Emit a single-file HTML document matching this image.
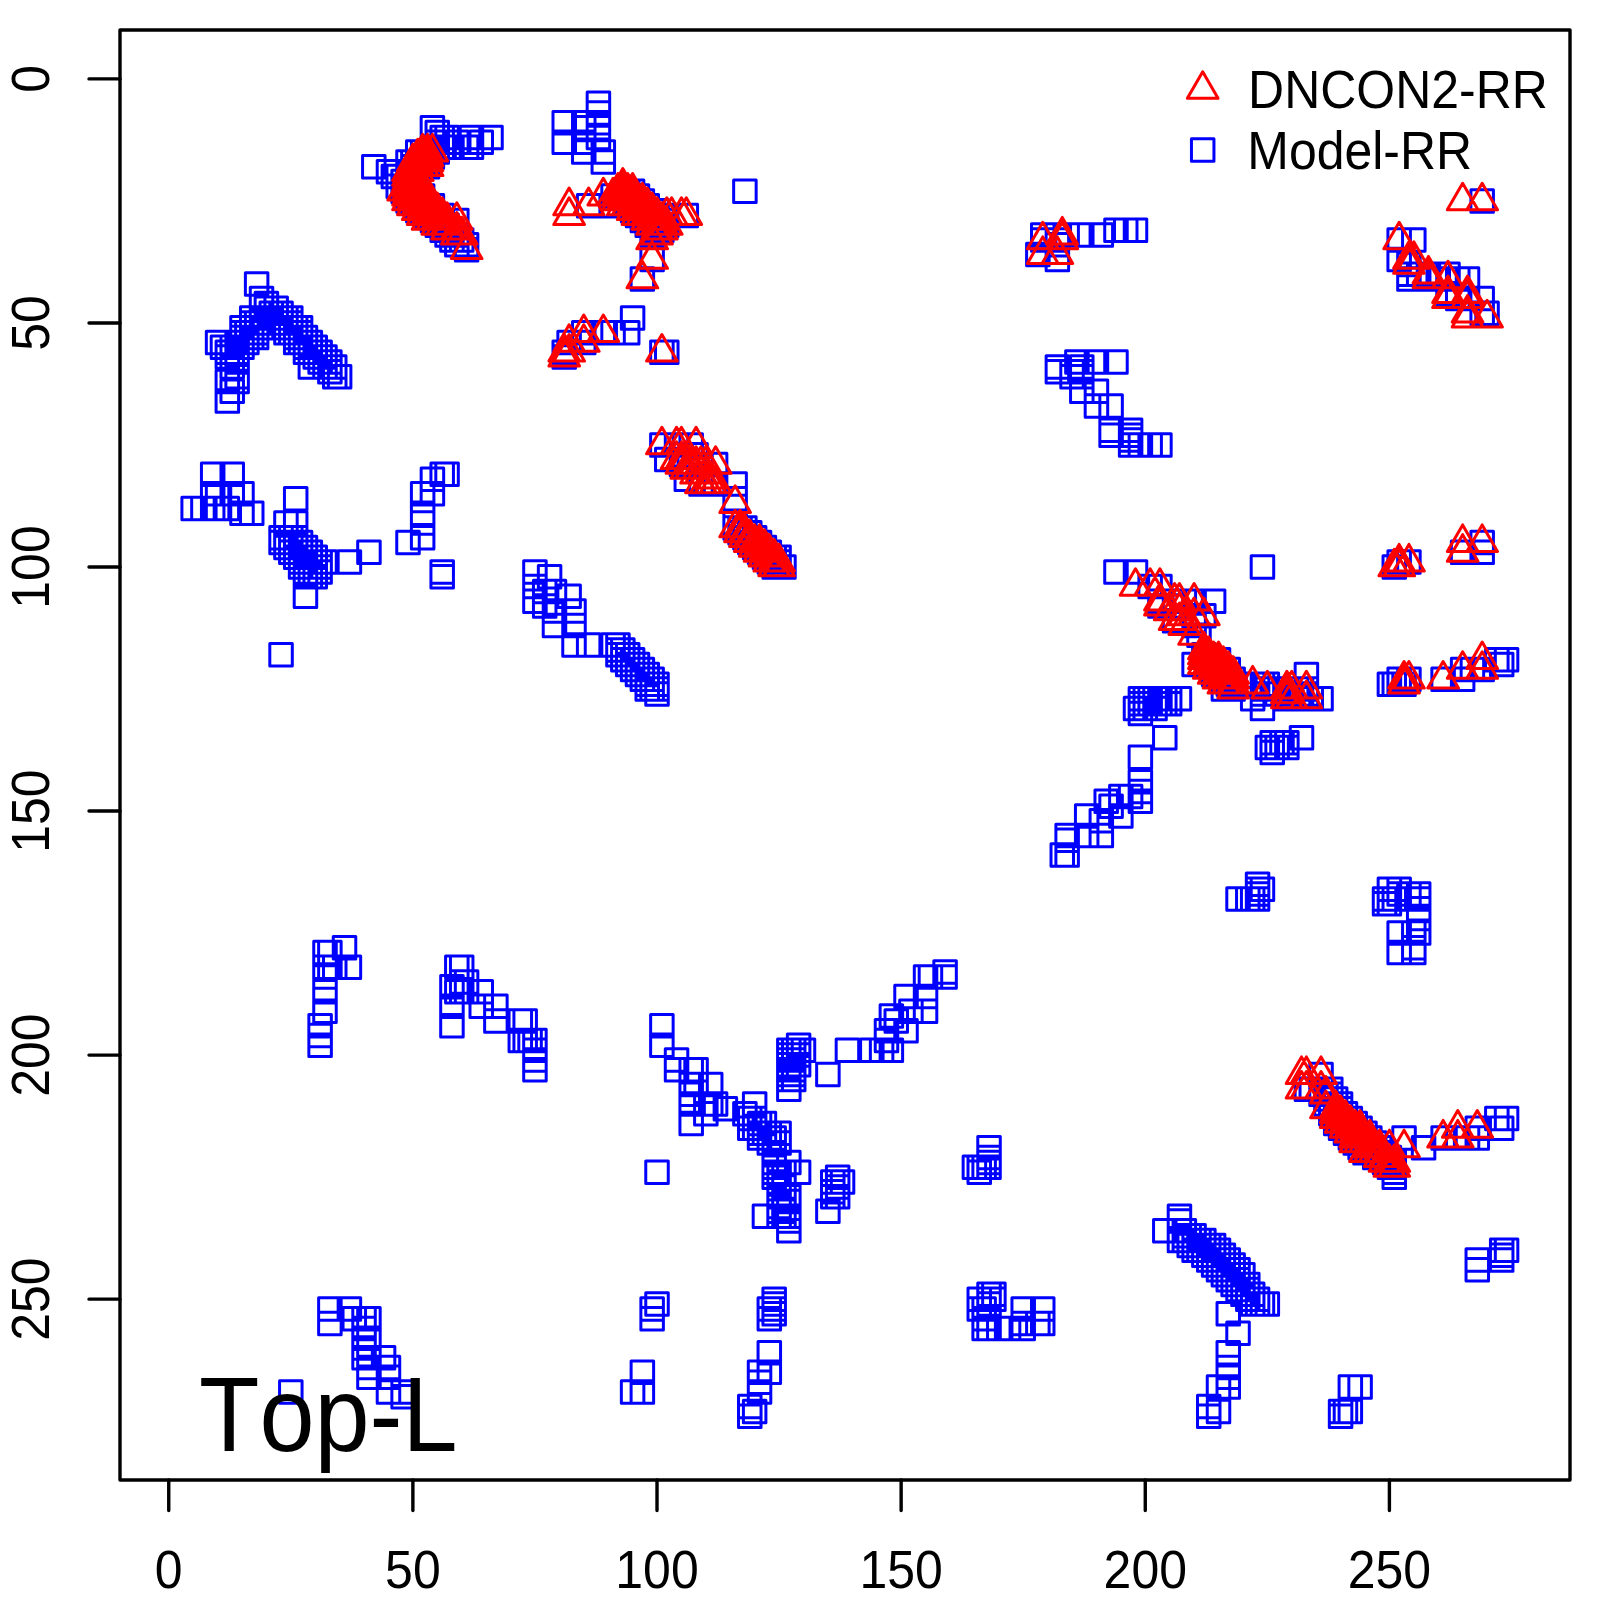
<!DOCTYPE html><html><head><meta charset="utf-8"><style>html,body{margin:0;padding:0;background:#fff;}svg{display:block;}text{font-family:"Liberation Sans",sans-serif;font-kerning:none;}</style></head><body>
<svg width="1600" height="1600" viewBox="0 0 1600 1600">
<rect x="0" y="0" width="1600" height="1600" fill="#fff"/>
<path d="M181.91 497.18h22.5v22.5h-22.5zM191.68 497.18h22.5v22.5h-22.5zM201.44 463.01h22.5v22.5h-22.5zM201.44 482.53h22.5v22.5h-22.5zM201.44 497.18h22.5v22.5h-22.5zM206.33 331.22h22.5v22.5h-22.5zM206.33 482.53h22.5v22.5h-22.5zM206.33 497.18h22.5v22.5h-22.5zM211.21 336.11h22.5v22.5h-22.5zM216.09 340.99h22.5v22.5h-22.5zM216.09 345.87h22.5v22.5h-22.5zM216.09 370.27h22.5v22.5h-22.5zM216.09 389.80h22.5v22.5h-22.5zM216.09 497.18h22.5v22.5h-22.5zM220.97 336.11h22.5v22.5h-22.5zM220.97 355.63h22.5v22.5h-22.5zM220.97 380.03h22.5v22.5h-22.5zM220.97 463.01h22.5v22.5h-22.5zM220.97 482.53h22.5v22.5h-22.5zM225.86 331.22h22.5v22.5h-22.5zM225.86 336.11h22.5v22.5h-22.5zM225.86 340.99h22.5v22.5h-22.5zM225.86 350.75h22.5v22.5h-22.5zM225.86 365.39h22.5v22.5h-22.5zM225.86 370.27h22.5v22.5h-22.5zM230.74 316.58h22.5v22.5h-22.5zM230.74 321.46h22.5v22.5h-22.5zM230.74 326.34h22.5v22.5h-22.5zM230.74 336.11h22.5v22.5h-22.5zM230.74 482.53h22.5v22.5h-22.5zM230.74 502.06h22.5v22.5h-22.5zM235.62 321.46h22.5v22.5h-22.5zM235.62 331.22h22.5v22.5h-22.5zM240.50 306.82h22.5v22.5h-22.5zM240.50 311.70h22.5v22.5h-22.5zM240.50 316.58h22.5v22.5h-22.5zM240.50 326.34h22.5v22.5h-22.5zM240.50 502.06h22.5v22.5h-22.5zM245.39 272.65h22.5v22.5h-22.5zM245.39 311.70h22.5v22.5h-22.5zM245.39 321.46h22.5v22.5h-22.5zM245.39 326.34h22.5v22.5h-22.5zM250.27 287.30h22.5v22.5h-22.5zM250.27 306.82h22.5v22.5h-22.5zM250.27 316.58h22.5v22.5h-22.5zM255.15 292.18h22.5v22.5h-22.5zM255.15 297.06h22.5v22.5h-22.5zM260.03 301.94h22.5v22.5h-22.5zM264.92 297.06h22.5v22.5h-22.5zM264.92 306.82h22.5v22.5h-22.5zM269.80 301.94h22.5v22.5h-22.5zM269.80 311.70h22.5v22.5h-22.5zM269.80 526.46h22.5v22.5h-22.5zM269.80 531.35h22.5v22.5h-22.5zM269.80 643.61h22.5v22.5h-22.5zM274.68 306.82h22.5v22.5h-22.5zM274.68 316.58h22.5v22.5h-22.5zM274.68 321.46h22.5v22.5h-22.5zM274.68 511.82h22.5v22.5h-22.5zM274.68 526.46h22.5v22.5h-22.5zM274.68 531.35h22.5v22.5h-22.5zM274.68 536.23h22.5v22.5h-22.5zM279.56 306.82h22.5v22.5h-22.5zM279.56 311.70h22.5v22.5h-22.5zM279.56 321.46h22.5v22.5h-22.5zM279.56 526.46h22.5v22.5h-22.5zM279.56 531.35h22.5v22.5h-22.5zM279.56 536.23h22.5v22.5h-22.5zM279.56 541.11h22.5v22.5h-22.5zM279.56 1380.64h22.5v22.5h-22.5zM284.45 316.58h22.5v22.5h-22.5zM284.45 326.34h22.5v22.5h-22.5zM284.45 331.22h22.5v22.5h-22.5zM284.45 487.42h22.5v22.5h-22.5zM284.45 511.82h22.5v22.5h-22.5zM284.45 526.46h22.5v22.5h-22.5zM284.45 531.35h22.5v22.5h-22.5zM284.45 536.23h22.5v22.5h-22.5zM284.45 541.11h22.5v22.5h-22.5zM284.45 545.99h22.5v22.5h-22.5zM289.33 316.58h22.5v22.5h-22.5zM289.33 321.46h22.5v22.5h-22.5zM289.33 331.22h22.5v22.5h-22.5zM289.33 531.35h22.5v22.5h-22.5zM289.33 536.23h22.5v22.5h-22.5zM289.33 541.11h22.5v22.5h-22.5zM289.33 545.99h22.5v22.5h-22.5zM289.33 550.87h22.5v22.5h-22.5zM289.33 555.75h22.5v22.5h-22.5zM294.21 326.34h22.5v22.5h-22.5zM294.21 336.11h22.5v22.5h-22.5zM294.21 340.99h22.5v22.5h-22.5zM294.21 536.23h22.5v22.5h-22.5zM294.21 541.11h22.5v22.5h-22.5zM294.21 545.99h22.5v22.5h-22.5zM294.21 550.87h22.5v22.5h-22.5zM294.21 555.75h22.5v22.5h-22.5zM294.21 560.63h22.5v22.5h-22.5zM294.21 565.51h22.5v22.5h-22.5zM294.21 585.04h22.5v22.5h-22.5zM299.10 331.22h22.5v22.5h-22.5zM299.10 336.11h22.5v22.5h-22.5zM299.10 340.99h22.5v22.5h-22.5zM299.10 355.63h22.5v22.5h-22.5zM299.10 541.11h22.5v22.5h-22.5zM299.10 545.99h22.5v22.5h-22.5zM299.10 550.87h22.5v22.5h-22.5zM299.10 555.75h22.5v22.5h-22.5zM299.10 560.63h22.5v22.5h-22.5zM299.10 565.51h22.5v22.5h-22.5zM303.98 336.11h22.5v22.5h-22.5zM303.98 345.87h22.5v22.5h-22.5zM303.98 545.99h22.5v22.5h-22.5zM303.98 550.87h22.5v22.5h-22.5zM303.98 555.75h22.5v22.5h-22.5zM303.98 560.63h22.5v22.5h-22.5zM303.98 565.51h22.5v22.5h-22.5zM308.86 340.99h22.5v22.5h-22.5zM308.86 350.75h22.5v22.5h-22.5zM308.86 550.87h22.5v22.5h-22.5zM308.86 555.75h22.5v22.5h-22.5zM308.86 560.63h22.5v22.5h-22.5zM308.86 1014.56h22.5v22.5h-22.5zM308.86 1024.33h22.5v22.5h-22.5zM308.86 1034.09h22.5v22.5h-22.5zM313.74 345.87h22.5v22.5h-22.5zM313.74 355.63h22.5v22.5h-22.5zM313.74 550.87h22.5v22.5h-22.5zM313.74 941.35h22.5v22.5h-22.5zM313.74 955.99h22.5v22.5h-22.5zM313.74 965.75h22.5v22.5h-22.5zM313.74 980.40h22.5v22.5h-22.5zM313.74 999.92h22.5v22.5h-22.5zM318.63 350.75h22.5v22.5h-22.5zM318.63 360.51h22.5v22.5h-22.5zM318.63 941.35h22.5v22.5h-22.5zM318.63 955.99h22.5v22.5h-22.5zM318.63 1297.66h22.5v22.5h-22.5zM318.63 1312.31h22.5v22.5h-22.5zM323.51 355.63h22.5v22.5h-22.5zM323.51 365.39h22.5v22.5h-22.5zM323.51 955.99h22.5v22.5h-22.5zM328.39 365.39h22.5v22.5h-22.5zM333.27 936.47h22.5v22.5h-22.5zM338.16 550.87h22.5v22.5h-22.5zM338.16 955.99h22.5v22.5h-22.5zM338.16 1297.66h22.5v22.5h-22.5zM343.04 1307.42h22.5v22.5h-22.5zM352.80 1307.42h22.5v22.5h-22.5zM352.80 1317.19h22.5v22.5h-22.5zM352.80 1326.95h22.5v22.5h-22.5zM352.80 1336.71h22.5v22.5h-22.5zM352.80 1346.47h22.5v22.5h-22.5zM357.69 541.11h22.5v22.5h-22.5zM357.69 1307.42h22.5v22.5h-22.5zM357.69 1326.95h22.5v22.5h-22.5zM357.69 1346.47h22.5v22.5h-22.5zM357.69 1356.23h22.5v22.5h-22.5zM357.69 1366.00h22.5v22.5h-22.5zM362.57 155.51h22.5v22.5h-22.5zM372.33 1346.47h22.5v22.5h-22.5zM377.22 160.39h22.5v22.5h-22.5zM377.22 1356.23h22.5v22.5h-22.5zM377.22 1366.00h22.5v22.5h-22.5zM377.22 1380.64h22.5v22.5h-22.5zM382.10 165.27h22.5v22.5h-22.5zM386.98 165.27h22.5v22.5h-22.5zM386.98 175.03h22.5v22.5h-22.5zM391.86 170.15h22.5v22.5h-22.5zM391.86 179.91h22.5v22.5h-22.5zM391.86 1380.64h22.5v22.5h-22.5zM391.86 1385.52h22.5v22.5h-22.5zM396.75 150.63h22.5v22.5h-22.5zM396.75 160.39h22.5v22.5h-22.5zM396.75 175.03h22.5v22.5h-22.5zM396.75 184.79h22.5v22.5h-22.5zM396.75 189.68h22.5v22.5h-22.5zM396.75 531.35h22.5v22.5h-22.5zM401.63 150.63h22.5v22.5h-22.5zM401.63 155.51h22.5v22.5h-22.5zM401.63 179.91h22.5v22.5h-22.5zM401.63 189.68h22.5v22.5h-22.5zM406.51 140.87h22.5v22.5h-22.5zM406.51 150.63h22.5v22.5h-22.5zM406.51 160.39h22.5v22.5h-22.5zM406.51 184.79h22.5v22.5h-22.5zM406.51 194.56h22.5v22.5h-22.5zM406.51 199.44h22.5v22.5h-22.5zM411.40 140.87h22.5v22.5h-22.5zM411.40 145.75h22.5v22.5h-22.5zM411.40 155.51h22.5v22.5h-22.5zM411.40 184.79h22.5v22.5h-22.5zM411.40 189.68h22.5v22.5h-22.5zM411.40 199.44h22.5v22.5h-22.5zM411.40 482.53h22.5v22.5h-22.5zM411.40 502.06h22.5v22.5h-22.5zM411.40 511.82h22.5v22.5h-22.5zM411.40 526.46h22.5v22.5h-22.5zM416.28 140.87h22.5v22.5h-22.5zM416.28 150.63h22.5v22.5h-22.5zM416.28 155.51h22.5v22.5h-22.5zM416.28 194.56h22.5v22.5h-22.5zM416.28 204.32h22.5v22.5h-22.5zM421.16 116.46h22.5v22.5h-22.5zM421.16 135.98h22.5v22.5h-22.5zM421.16 145.75h22.5v22.5h-22.5zM421.16 194.56h22.5v22.5h-22.5zM421.16 199.44h22.5v22.5h-22.5zM421.16 209.20h22.5v22.5h-22.5zM421.16 467.89h22.5v22.5h-22.5zM421.16 482.53h22.5v22.5h-22.5zM426.04 121.34h22.5v22.5h-22.5zM426.04 131.10h22.5v22.5h-22.5zM426.04 135.98h22.5v22.5h-22.5zM426.04 140.87h22.5v22.5h-22.5zM426.04 204.32h22.5v22.5h-22.5zM426.04 209.20h22.5v22.5h-22.5zM426.04 214.08h22.5v22.5h-22.5zM430.93 126.22h22.5v22.5h-22.5zM430.93 135.98h22.5v22.5h-22.5zM430.93 204.32h22.5v22.5h-22.5zM430.93 209.20h22.5v22.5h-22.5zM430.93 218.96h22.5v22.5h-22.5zM430.93 463.01h22.5v22.5h-22.5zM430.93 560.63h22.5v22.5h-22.5zM430.93 565.51h22.5v22.5h-22.5zM435.81 126.22h22.5v22.5h-22.5zM435.81 214.08h22.5v22.5h-22.5zM435.81 223.84h22.5v22.5h-22.5zM435.81 463.01h22.5v22.5h-22.5zM440.69 135.98h22.5v22.5h-22.5zM440.69 218.96h22.5v22.5h-22.5zM440.69 228.72h22.5v22.5h-22.5zM440.69 975.52h22.5v22.5h-22.5zM440.69 995.04h22.5v22.5h-22.5zM440.69 1014.56h22.5v22.5h-22.5zM445.57 131.10h22.5v22.5h-22.5zM445.57 209.20h22.5v22.5h-22.5zM445.57 223.84h22.5v22.5h-22.5zM445.57 233.60h22.5v22.5h-22.5zM445.57 955.99h22.5v22.5h-22.5zM445.57 980.40h22.5v22.5h-22.5zM450.46 228.72h22.5v22.5h-22.5zM450.46 955.99h22.5v22.5h-22.5zM450.46 970.63h22.5v22.5h-22.5zM450.46 980.40h22.5v22.5h-22.5zM455.34 135.98h22.5v22.5h-22.5zM455.34 233.60h22.5v22.5h-22.5zM455.34 238.49h22.5v22.5h-22.5zM455.34 970.63h22.5v22.5h-22.5zM455.34 980.40h22.5v22.5h-22.5zM460.22 126.22h22.5v22.5h-22.5zM460.22 135.98h22.5v22.5h-22.5zM469.99 131.10h22.5v22.5h-22.5zM469.99 980.40h22.5v22.5h-22.5zM469.99 995.04h22.5v22.5h-22.5zM479.75 126.22h22.5v22.5h-22.5zM484.63 995.04h22.5v22.5h-22.5zM484.63 1009.68h22.5v22.5h-22.5zM509.05 1009.68h22.5v22.5h-22.5zM509.05 1029.21h22.5v22.5h-22.5zM513.93 1009.68h22.5v22.5h-22.5zM513.93 1029.21h22.5v22.5h-22.5zM518.81 1029.21h22.5v22.5h-22.5zM523.69 560.63h22.5v22.5h-22.5zM523.69 575.27h22.5v22.5h-22.5zM523.69 589.92h22.5v22.5h-22.5zM523.69 1029.21h22.5v22.5h-22.5zM523.69 1038.97h22.5v22.5h-22.5zM523.69 1048.73h22.5v22.5h-22.5zM523.69 1058.49h22.5v22.5h-22.5zM533.46 580.15h22.5v22.5h-22.5zM533.46 594.80h22.5v22.5h-22.5zM538.34 565.51h22.5v22.5h-22.5zM543.23 580.15h22.5v22.5h-22.5zM543.23 599.68h22.5v22.5h-22.5zM543.23 614.32h22.5v22.5h-22.5zM552.99 111.58h22.5v22.5h-22.5zM552.99 131.10h22.5v22.5h-22.5zM552.99 340.99h22.5v22.5h-22.5zM552.99 345.87h22.5v22.5h-22.5zM557.87 331.22h22.5v22.5h-22.5zM557.87 585.04h22.5v22.5h-22.5zM562.76 599.68h22.5v22.5h-22.5zM562.76 614.32h22.5v22.5h-22.5zM562.76 633.85h22.5v22.5h-22.5zM572.52 111.58h22.5v22.5h-22.5zM572.52 116.46h22.5v22.5h-22.5zM572.52 131.10h22.5v22.5h-22.5zM572.52 140.87h22.5v22.5h-22.5zM572.52 321.46h22.5v22.5h-22.5zM572.52 331.22h22.5v22.5h-22.5zM577.40 194.56h22.5v22.5h-22.5zM577.40 633.85h22.5v22.5h-22.5zM587.17 92.06h22.5v22.5h-22.5zM587.17 101.82h22.5v22.5h-22.5zM587.17 111.58h22.5v22.5h-22.5zM587.17 116.46h22.5v22.5h-22.5zM587.17 126.22h22.5v22.5h-22.5zM592.05 140.87h22.5v22.5h-22.5zM592.05 150.63h22.5v22.5h-22.5zM592.05 321.46h22.5v22.5h-22.5zM601.82 184.79h22.5v22.5h-22.5zM601.82 194.56h22.5v22.5h-22.5zM601.82 321.46h22.5v22.5h-22.5zM601.82 633.85h22.5v22.5h-22.5zM606.70 633.85h22.5v22.5h-22.5zM606.70 638.73h22.5v22.5h-22.5zM606.70 643.61h22.5v22.5h-22.5zM611.58 638.73h22.5v22.5h-22.5zM611.58 643.61h22.5v22.5h-22.5zM611.58 648.49h22.5v22.5h-22.5zM616.46 179.91h22.5v22.5h-22.5zM616.46 184.79h22.5v22.5h-22.5zM616.46 189.68h22.5v22.5h-22.5zM616.46 194.56h22.5v22.5h-22.5zM616.46 321.46h22.5v22.5h-22.5zM616.46 643.61h22.5v22.5h-22.5zM616.46 648.49h22.5v22.5h-22.5zM616.46 653.37h22.5v22.5h-22.5zM621.35 179.91h22.5v22.5h-22.5zM621.35 184.79h22.5v22.5h-22.5zM621.35 189.68h22.5v22.5h-22.5zM621.35 194.56h22.5v22.5h-22.5zM621.35 199.44h22.5v22.5h-22.5zM621.35 306.82h22.5v22.5h-22.5zM621.35 648.49h22.5v22.5h-22.5zM621.35 653.37h22.5v22.5h-22.5zM621.35 658.25h22.5v22.5h-22.5zM621.35 1380.64h22.5v22.5h-22.5zM626.23 184.79h22.5v22.5h-22.5zM626.23 189.68h22.5v22.5h-22.5zM626.23 194.56h22.5v22.5h-22.5zM626.23 199.44h22.5v22.5h-22.5zM626.23 204.32h22.5v22.5h-22.5zM626.23 653.37h22.5v22.5h-22.5zM626.23 658.25h22.5v22.5h-22.5zM626.23 663.13h22.5v22.5h-22.5zM631.11 189.68h22.5v22.5h-22.5zM631.11 194.56h22.5v22.5h-22.5zM631.11 199.44h22.5v22.5h-22.5zM631.11 204.32h22.5v22.5h-22.5zM631.11 209.20h22.5v22.5h-22.5zM631.11 267.77h22.5v22.5h-22.5zM631.11 658.25h22.5v22.5h-22.5zM631.11 663.13h22.5v22.5h-22.5zM631.11 668.01h22.5v22.5h-22.5zM631.11 1361.12h22.5v22.5h-22.5zM631.11 1380.64h22.5v22.5h-22.5zM635.99 194.56h22.5v22.5h-22.5zM635.99 199.44h22.5v22.5h-22.5zM635.99 204.32h22.5v22.5h-22.5zM635.99 209.20h22.5v22.5h-22.5zM635.99 214.08h22.5v22.5h-22.5zM635.99 663.13h22.5v22.5h-22.5zM635.99 668.01h22.5v22.5h-22.5zM635.99 672.89h22.5v22.5h-22.5zM635.99 677.77h22.5v22.5h-22.5zM640.88 199.44h22.5v22.5h-22.5zM640.88 204.32h22.5v22.5h-22.5zM640.88 209.20h22.5v22.5h-22.5zM640.88 214.08h22.5v22.5h-22.5zM640.88 218.96h22.5v22.5h-22.5zM640.88 223.84h22.5v22.5h-22.5zM640.88 248.25h22.5v22.5h-22.5zM640.88 668.01h22.5v22.5h-22.5zM640.88 672.89h22.5v22.5h-22.5zM640.88 677.77h22.5v22.5h-22.5zM640.88 1297.66h22.5v22.5h-22.5zM640.88 1307.42h22.5v22.5h-22.5zM645.76 199.44h22.5v22.5h-22.5zM645.76 204.32h22.5v22.5h-22.5zM645.76 209.20h22.5v22.5h-22.5zM645.76 214.08h22.5v22.5h-22.5zM645.76 218.96h22.5v22.5h-22.5zM645.76 672.89h22.5v22.5h-22.5zM645.76 677.77h22.5v22.5h-22.5zM645.76 682.66h22.5v22.5h-22.5zM645.76 1160.99h22.5v22.5h-22.5zM645.76 1292.78h22.5v22.5h-22.5zM650.64 204.32h22.5v22.5h-22.5zM650.64 209.20h22.5v22.5h-22.5zM650.64 214.08h22.5v22.5h-22.5zM650.64 218.96h22.5v22.5h-22.5zM650.64 340.99h22.5v22.5h-22.5zM650.64 433.73h22.5v22.5h-22.5zM650.64 1014.56h22.5v22.5h-22.5zM650.64 1034.09h22.5v22.5h-22.5zM655.53 204.32h22.5v22.5h-22.5zM655.53 209.20h22.5v22.5h-22.5zM655.53 214.08h22.5v22.5h-22.5zM655.53 340.99h22.5v22.5h-22.5zM655.53 448.37h22.5v22.5h-22.5zM665.29 433.73h22.5v22.5h-22.5zM665.29 1048.73h22.5v22.5h-22.5zM665.29 1058.49h22.5v22.5h-22.5zM670.17 443.49h22.5v22.5h-22.5zM670.17 453.25h22.5v22.5h-22.5zM675.06 204.32h22.5v22.5h-22.5zM675.06 467.89h22.5v22.5h-22.5zM679.94 433.73h22.5v22.5h-22.5zM679.94 1058.49h22.5v22.5h-22.5zM679.94 1073.14h22.5v22.5h-22.5zM679.94 1082.90h22.5v22.5h-22.5zM679.94 1092.66h22.5v22.5h-22.5zM679.94 1112.18h22.5v22.5h-22.5zM684.82 443.49h22.5v22.5h-22.5zM684.82 1058.49h22.5v22.5h-22.5zM684.82 1073.14h22.5v22.5h-22.5zM689.70 453.25h22.5v22.5h-22.5zM689.70 472.77h22.5v22.5h-22.5zM694.59 1092.66h22.5v22.5h-22.5zM694.59 1102.42h22.5v22.5h-22.5zM699.47 1073.14h22.5v22.5h-22.5zM699.47 1092.66h22.5v22.5h-22.5zM704.35 453.25h22.5v22.5h-22.5zM704.35 472.77h22.5v22.5h-22.5zM704.35 1092.66h22.5v22.5h-22.5zM714.12 1097.54h22.5v22.5h-22.5zM723.88 472.77h22.5v22.5h-22.5zM723.88 487.42h22.5v22.5h-22.5zM723.88 511.82h22.5v22.5h-22.5zM723.88 516.70h22.5v22.5h-22.5zM728.76 516.70h22.5v22.5h-22.5zM728.76 521.58h22.5v22.5h-22.5zM733.65 179.91h22.5v22.5h-22.5zM733.65 516.70h22.5v22.5h-22.5zM733.65 521.58h22.5v22.5h-22.5zM733.65 526.46h22.5v22.5h-22.5zM733.65 1102.42h22.5v22.5h-22.5zM738.53 521.58h22.5v22.5h-22.5zM738.53 526.46h22.5v22.5h-22.5zM738.53 531.35h22.5v22.5h-22.5zM738.53 1107.30h22.5v22.5h-22.5zM738.53 1117.07h22.5v22.5h-22.5zM738.53 1395.28h22.5v22.5h-22.5zM738.53 1405.04h22.5v22.5h-22.5zM743.41 526.46h22.5v22.5h-22.5zM743.41 531.35h22.5v22.5h-22.5zM743.41 536.23h22.5v22.5h-22.5zM743.41 1092.66h22.5v22.5h-22.5zM743.41 1107.30h22.5v22.5h-22.5zM743.41 1117.07h22.5v22.5h-22.5zM743.41 1400.16h22.5v22.5h-22.5zM748.29 531.35h22.5v22.5h-22.5zM748.29 536.23h22.5v22.5h-22.5zM748.29 541.11h22.5v22.5h-22.5zM748.29 1112.18h22.5v22.5h-22.5zM748.29 1121.95h22.5v22.5h-22.5zM748.29 1126.83h22.5v22.5h-22.5zM748.29 1361.12h22.5v22.5h-22.5zM748.29 1370.88h22.5v22.5h-22.5zM748.29 1380.64h22.5v22.5h-22.5zM753.18 536.23h22.5v22.5h-22.5zM753.18 541.11h22.5v22.5h-22.5zM753.18 545.99h22.5v22.5h-22.5zM753.18 1112.18h22.5v22.5h-22.5zM753.18 1121.95h22.5v22.5h-22.5zM753.18 1204.92h22.5v22.5h-22.5zM758.06 541.11h22.5v22.5h-22.5zM758.06 545.99h22.5v22.5h-22.5zM758.06 550.87h22.5v22.5h-22.5zM758.06 1121.95h22.5v22.5h-22.5zM758.06 1126.83h22.5v22.5h-22.5zM758.06 1131.71h22.5v22.5h-22.5zM758.06 1297.66h22.5v22.5h-22.5zM758.06 1307.42h22.5v22.5h-22.5zM758.06 1341.59h22.5v22.5h-22.5zM758.06 1361.12h22.5v22.5h-22.5zM762.94 545.99h22.5v22.5h-22.5zM762.94 550.87h22.5v22.5h-22.5zM762.94 555.75h22.5v22.5h-22.5zM762.94 1126.83h22.5v22.5h-22.5zM762.94 1131.71h22.5v22.5h-22.5zM762.94 1141.47h22.5v22.5h-22.5zM762.94 1151.23h22.5v22.5h-22.5zM762.94 1156.11h22.5v22.5h-22.5zM762.94 1160.99h22.5v22.5h-22.5zM762.94 1165.88h22.5v22.5h-22.5zM762.94 1287.90h22.5v22.5h-22.5zM762.94 1292.78h22.5v22.5h-22.5zM762.94 1297.66h22.5v22.5h-22.5zM762.94 1302.54h22.5v22.5h-22.5zM767.83 545.99h22.5v22.5h-22.5zM767.83 550.87h22.5v22.5h-22.5zM767.83 555.75h22.5v22.5h-22.5zM767.83 1121.95h22.5v22.5h-22.5zM767.83 1131.71h22.5v22.5h-22.5zM767.83 1160.99h22.5v22.5h-22.5zM767.83 1170.76h22.5v22.5h-22.5zM767.83 1185.40h22.5v22.5h-22.5zM767.83 1195.16h22.5v22.5h-22.5zM767.83 1200.04h22.5v22.5h-22.5zM767.83 1204.92h22.5v22.5h-22.5zM772.71 555.75h22.5v22.5h-22.5zM772.71 1160.99h22.5v22.5h-22.5zM772.71 1175.64h22.5v22.5h-22.5zM772.71 1190.28h22.5v22.5h-22.5zM772.71 1200.04h22.5v22.5h-22.5zM772.71 1204.92h22.5v22.5h-22.5zM777.59 1038.97h22.5v22.5h-22.5zM777.59 1043.85h22.5v22.5h-22.5zM777.59 1048.73h22.5v22.5h-22.5zM777.59 1053.61h22.5v22.5h-22.5zM777.59 1058.49h22.5v22.5h-22.5zM777.59 1063.37h22.5v22.5h-22.5zM777.59 1068.26h22.5v22.5h-22.5zM777.59 1078.02h22.5v22.5h-22.5zM777.59 1151.23h22.5v22.5h-22.5zM777.59 1185.40h22.5v22.5h-22.5zM777.59 1190.28h22.5v22.5h-22.5zM777.59 1204.92h22.5v22.5h-22.5zM777.59 1209.80h22.5v22.5h-22.5zM777.59 1219.57h22.5v22.5h-22.5zM782.47 1038.97h22.5v22.5h-22.5zM782.47 1043.85h22.5v22.5h-22.5zM782.47 1048.73h22.5v22.5h-22.5zM782.47 1053.61h22.5v22.5h-22.5zM782.47 1058.49h22.5v22.5h-22.5zM782.47 1063.37h22.5v22.5h-22.5zM782.47 1068.26h22.5v22.5h-22.5zM787.36 1034.09h22.5v22.5h-22.5zM787.36 1043.85h22.5v22.5h-22.5zM787.36 1053.61h22.5v22.5h-22.5zM787.36 1160.99h22.5v22.5h-22.5zM792.24 1038.97h22.5v22.5h-22.5zM816.65 1063.37h22.5v22.5h-22.5zM816.65 1200.04h22.5v22.5h-22.5zM821.53 1170.76h22.5v22.5h-22.5zM821.53 1180.52h22.5v22.5h-22.5zM821.53 1185.40h22.5v22.5h-22.5zM826.42 1165.88h22.5v22.5h-22.5zM826.42 1175.64h22.5v22.5h-22.5zM826.42 1185.40h22.5v22.5h-22.5zM831.30 1170.76h22.5v22.5h-22.5zM836.18 1038.97h22.5v22.5h-22.5zM860.59 1038.97h22.5v22.5h-22.5zM870.36 1038.97h22.5v22.5h-22.5zM875.24 1019.45h22.5v22.5h-22.5zM875.24 1029.21h22.5v22.5h-22.5zM880.12 1004.80h22.5v22.5h-22.5zM880.12 1038.97h22.5v22.5h-22.5zM885.01 1009.68h22.5v22.5h-22.5zM894.77 985.28h22.5v22.5h-22.5zM894.77 1019.45h22.5v22.5h-22.5zM899.66 999.92h22.5v22.5h-22.5zM914.30 965.75h22.5v22.5h-22.5zM914.30 985.28h22.5v22.5h-22.5zM914.30 999.92h22.5v22.5h-22.5zM919.19 965.75h22.5v22.5h-22.5zM933.83 960.87h22.5v22.5h-22.5zM933.83 965.75h22.5v22.5h-22.5zM963.13 1156.11h22.5v22.5h-22.5zM968.01 1156.11h22.5v22.5h-22.5zM968.01 1160.99h22.5v22.5h-22.5zM968.01 1287.90h22.5v22.5h-22.5zM968.01 1297.66h22.5v22.5h-22.5zM972.89 1156.11h22.5v22.5h-22.5zM972.89 1297.66h22.5v22.5h-22.5zM972.89 1307.42h22.5v22.5h-22.5zM972.89 1317.19h22.5v22.5h-22.5zM977.78 1136.59h22.5v22.5h-22.5zM977.78 1146.35h22.5v22.5h-22.5zM977.78 1151.23h22.5v22.5h-22.5zM977.78 1156.11h22.5v22.5h-22.5zM977.78 1283.02h22.5v22.5h-22.5zM977.78 1292.78h22.5v22.5h-22.5zM977.78 1307.42h22.5v22.5h-22.5zM977.78 1317.19h22.5v22.5h-22.5zM982.66 1283.02h22.5v22.5h-22.5zM982.66 1287.90h22.5v22.5h-22.5zM987.54 1317.19h22.5v22.5h-22.5zM997.31 1317.19h22.5v22.5h-22.5zM1011.96 1297.66h22.5v22.5h-22.5zM1011.96 1312.31h22.5v22.5h-22.5zM1011.96 1317.19h22.5v22.5h-22.5zM1026.60 243.37h22.5v22.5h-22.5zM1026.60 1312.31h22.5v22.5h-22.5zM1031.49 223.84h22.5v22.5h-22.5zM1031.49 228.72h22.5v22.5h-22.5zM1031.49 1297.66h22.5v22.5h-22.5zM1031.49 1312.31h22.5v22.5h-22.5zM1046.13 223.84h22.5v22.5h-22.5zM1046.13 228.72h22.5v22.5h-22.5zM1046.13 233.60h22.5v22.5h-22.5zM1046.13 248.25h22.5v22.5h-22.5zM1046.13 355.63h22.5v22.5h-22.5zM1046.13 360.51h22.5v22.5h-22.5zM1051.02 843.73h22.5v22.5h-22.5zM1055.90 223.84h22.5v22.5h-22.5zM1055.90 824.21h22.5v22.5h-22.5zM1055.90 829.09h22.5v22.5h-22.5zM1055.90 843.73h22.5v22.5h-22.5zM1060.78 360.51h22.5v22.5h-22.5zM1060.78 365.39h22.5v22.5h-22.5zM1065.66 350.75h22.5v22.5h-22.5zM1070.55 223.84h22.5v22.5h-22.5zM1070.55 355.63h22.5v22.5h-22.5zM1070.55 360.51h22.5v22.5h-22.5zM1070.55 365.39h22.5v22.5h-22.5zM1070.55 380.03h22.5v22.5h-22.5zM1075.43 804.68h22.5v22.5h-22.5zM1075.43 824.21h22.5v22.5h-22.5zM1085.19 350.75h22.5v22.5h-22.5zM1085.19 380.03h22.5v22.5h-22.5zM1085.19 394.68h22.5v22.5h-22.5zM1090.08 223.84h22.5v22.5h-22.5zM1090.08 809.56h22.5v22.5h-22.5zM1090.08 824.21h22.5v22.5h-22.5zM1094.96 790.04h22.5v22.5h-22.5zM1099.84 394.68h22.5v22.5h-22.5zM1099.84 419.08h22.5v22.5h-22.5zM1099.84 423.96h22.5v22.5h-22.5zM1099.84 794.92h22.5v22.5h-22.5zM1104.72 218.96h22.5v22.5h-22.5zM1104.72 350.75h22.5v22.5h-22.5zM1104.72 560.63h22.5v22.5h-22.5zM1109.61 785.16h22.5v22.5h-22.5zM1109.61 804.68h22.5v22.5h-22.5zM1114.49 218.96h22.5v22.5h-22.5zM1119.37 419.08h22.5v22.5h-22.5zM1119.37 423.96h22.5v22.5h-22.5zM1119.37 428.84h22.5v22.5h-22.5zM1119.37 433.73h22.5v22.5h-22.5zM1119.37 785.16h22.5v22.5h-22.5zM1124.25 218.96h22.5v22.5h-22.5zM1124.25 560.63h22.5v22.5h-22.5zM1124.25 697.30h22.5v22.5h-22.5zM1129.14 433.73h22.5v22.5h-22.5zM1129.14 687.54h22.5v22.5h-22.5zM1129.14 692.42h22.5v22.5h-22.5zM1129.14 702.18h22.5v22.5h-22.5zM1129.14 746.11h22.5v22.5h-22.5zM1129.14 770.51h22.5v22.5h-22.5zM1129.14 780.28h22.5v22.5h-22.5zM1129.14 790.04h22.5v22.5h-22.5zM1134.02 687.54h22.5v22.5h-22.5zM1134.02 692.42h22.5v22.5h-22.5zM1134.02 697.30h22.5v22.5h-22.5zM1138.90 433.73h22.5v22.5h-22.5zM1138.90 575.27h22.5v22.5h-22.5zM1138.90 687.54h22.5v22.5h-22.5zM1138.90 692.42h22.5v22.5h-22.5zM1143.79 687.54h22.5v22.5h-22.5zM1143.79 692.42h22.5v22.5h-22.5zM1143.79 697.30h22.5v22.5h-22.5zM1148.67 433.73h22.5v22.5h-22.5zM1148.67 575.27h22.5v22.5h-22.5zM1148.67 589.92h22.5v22.5h-22.5zM1148.67 594.80h22.5v22.5h-22.5zM1148.67 687.54h22.5v22.5h-22.5zM1148.67 692.42h22.5v22.5h-22.5zM1153.55 687.54h22.5v22.5h-22.5zM1153.55 692.42h22.5v22.5h-22.5zM1153.55 726.59h22.5v22.5h-22.5zM1153.55 1219.57h22.5v22.5h-22.5zM1158.43 687.54h22.5v22.5h-22.5zM1158.43 692.42h22.5v22.5h-22.5zM1163.32 589.92h22.5v22.5h-22.5zM1163.32 594.80h22.5v22.5h-22.5zM1163.32 609.44h22.5v22.5h-22.5zM1168.20 687.54h22.5v22.5h-22.5zM1168.20 1204.92h22.5v22.5h-22.5zM1168.20 1209.80h22.5v22.5h-22.5zM1168.20 1219.57h22.5v22.5h-22.5zM1168.20 1229.33h22.5v22.5h-22.5zM1173.08 589.92h22.5v22.5h-22.5zM1173.08 1219.57h22.5v22.5h-22.5zM1173.08 1224.45h22.5v22.5h-22.5zM1173.08 1229.33h22.5v22.5h-22.5zM1177.96 1224.45h22.5v22.5h-22.5zM1177.96 1229.33h22.5v22.5h-22.5zM1177.96 1234.21h22.5v22.5h-22.5zM1182.85 589.92h22.5v22.5h-22.5zM1182.85 604.56h22.5v22.5h-22.5zM1182.85 609.44h22.5v22.5h-22.5zM1182.85 614.32h22.5v22.5h-22.5zM1182.85 653.37h22.5v22.5h-22.5zM1182.85 1224.45h22.5v22.5h-22.5zM1182.85 1234.21h22.5v22.5h-22.5zM1182.85 1239.09h22.5v22.5h-22.5zM1187.73 624.08h22.5v22.5h-22.5zM1187.73 1229.33h22.5v22.5h-22.5zM1187.73 1239.09h22.5v22.5h-22.5zM1192.61 604.56h22.5v22.5h-22.5zM1192.61 643.61h22.5v22.5h-22.5zM1192.61 1229.33h22.5v22.5h-22.5zM1192.61 1234.21h22.5v22.5h-22.5zM1192.61 1243.97h22.5v22.5h-22.5zM1197.49 648.49h22.5v22.5h-22.5zM1197.49 653.37h22.5v22.5h-22.5zM1197.49 1234.21h22.5v22.5h-22.5zM1197.49 1239.09h22.5v22.5h-22.5zM1197.49 1248.85h22.5v22.5h-22.5zM1197.49 1395.28h22.5v22.5h-22.5zM1197.49 1405.04h22.5v22.5h-22.5zM1202.38 589.92h22.5v22.5h-22.5zM1202.38 658.25h22.5v22.5h-22.5zM1202.38 663.13h22.5v22.5h-22.5zM1202.38 1234.21h22.5v22.5h-22.5zM1202.38 1243.97h22.5v22.5h-22.5zM1202.38 1253.73h22.5v22.5h-22.5zM1207.26 648.49h22.5v22.5h-22.5zM1207.26 653.37h22.5v22.5h-22.5zM1207.26 1239.09h22.5v22.5h-22.5zM1207.26 1248.85h22.5v22.5h-22.5zM1207.26 1258.61h22.5v22.5h-22.5zM1207.26 1375.76h22.5v22.5h-22.5zM1207.26 1400.16h22.5v22.5h-22.5zM1212.14 658.25h22.5v22.5h-22.5zM1212.14 663.13h22.5v22.5h-22.5zM1212.14 668.01h22.5v22.5h-22.5zM1212.14 677.77h22.5v22.5h-22.5zM1212.14 1243.97h22.5v22.5h-22.5zM1212.14 1253.73h22.5v22.5h-22.5zM1212.14 1263.50h22.5v22.5h-22.5zM1217.02 658.25h22.5v22.5h-22.5zM1217.02 668.01h22.5v22.5h-22.5zM1217.02 672.89h22.5v22.5h-22.5zM1217.02 1248.85h22.5v22.5h-22.5zM1217.02 1258.61h22.5v22.5h-22.5zM1217.02 1268.38h22.5v22.5h-22.5zM1217.02 1302.54h22.5v22.5h-22.5zM1217.02 1341.59h22.5v22.5h-22.5zM1217.02 1356.23h22.5v22.5h-22.5zM1217.02 1366.00h22.5v22.5h-22.5zM1217.02 1375.76h22.5v22.5h-22.5zM1221.91 668.01h22.5v22.5h-22.5zM1221.91 672.89h22.5v22.5h-22.5zM1221.91 677.77h22.5v22.5h-22.5zM1221.91 1253.73h22.5v22.5h-22.5zM1221.91 1263.50h22.5v22.5h-22.5zM1221.91 1273.26h22.5v22.5h-22.5zM1226.79 887.66h22.5v22.5h-22.5zM1226.79 1258.61h22.5v22.5h-22.5zM1226.79 1268.38h22.5v22.5h-22.5zM1226.79 1278.14h22.5v22.5h-22.5zM1226.79 1322.07h22.5v22.5h-22.5zM1231.67 672.89h22.5v22.5h-22.5zM1231.67 1263.50h22.5v22.5h-22.5zM1231.67 1273.26h22.5v22.5h-22.5zM1231.67 1283.02h22.5v22.5h-22.5zM1236.55 887.66h22.5v22.5h-22.5zM1236.55 1273.26h22.5v22.5h-22.5zM1236.55 1278.14h22.5v22.5h-22.5zM1236.55 1287.90h22.5v22.5h-22.5zM1241.44 672.89h22.5v22.5h-22.5zM1241.44 687.54h22.5v22.5h-22.5zM1241.44 887.66h22.5v22.5h-22.5zM1241.44 1283.02h22.5v22.5h-22.5zM1241.44 1292.78h22.5v22.5h-22.5zM1246.32 672.89h22.5v22.5h-22.5zM1246.32 873.01h22.5v22.5h-22.5zM1246.32 877.90h22.5v22.5h-22.5zM1246.32 882.78h22.5v22.5h-22.5zM1246.32 887.66h22.5v22.5h-22.5zM1246.32 1287.90h22.5v22.5h-22.5zM1246.32 1292.78h22.5v22.5h-22.5zM1251.20 555.75h22.5v22.5h-22.5zM1251.20 672.89h22.5v22.5h-22.5zM1251.20 677.77h22.5v22.5h-22.5zM1251.20 682.66h22.5v22.5h-22.5zM1251.20 697.30h22.5v22.5h-22.5zM1251.20 877.90h22.5v22.5h-22.5zM1251.20 1292.78h22.5v22.5h-22.5zM1256.09 672.89h22.5v22.5h-22.5zM1256.09 736.35h22.5v22.5h-22.5zM1256.09 1292.78h22.5v22.5h-22.5zM1260.97 677.77h22.5v22.5h-22.5zM1260.97 731.47h22.5v22.5h-22.5zM1260.97 741.23h22.5v22.5h-22.5zM1265.85 682.66h22.5v22.5h-22.5zM1265.85 736.35h22.5v22.5h-22.5zM1270.73 731.47h22.5v22.5h-22.5zM1275.62 677.77h22.5v22.5h-22.5zM1275.62 687.54h22.5v22.5h-22.5zM1275.62 731.47h22.5v22.5h-22.5zM1275.62 736.35h22.5v22.5h-22.5zM1280.50 682.66h22.5v22.5h-22.5zM1280.50 687.54h22.5v22.5h-22.5zM1285.38 677.77h22.5v22.5h-22.5zM1290.26 677.77h22.5v22.5h-22.5zM1290.26 682.66h22.5v22.5h-22.5zM1290.26 726.59h22.5v22.5h-22.5zM1295.15 663.13h22.5v22.5h-22.5zM1295.15 677.77h22.5v22.5h-22.5zM1295.15 682.66h22.5v22.5h-22.5zM1295.15 687.54h22.5v22.5h-22.5zM1295.15 1078.02h22.5v22.5h-22.5zM1300.03 687.54h22.5v22.5h-22.5zM1300.03 1078.02h22.5v22.5h-22.5zM1309.79 687.54h22.5v22.5h-22.5zM1309.79 1063.37h22.5v22.5h-22.5zM1309.79 1078.02h22.5v22.5h-22.5zM1309.79 1082.90h22.5v22.5h-22.5zM1314.68 1082.90h22.5v22.5h-22.5zM1314.68 1087.78h22.5v22.5h-22.5zM1314.68 1092.66h22.5v22.5h-22.5zM1319.56 1078.02h22.5v22.5h-22.5zM1319.56 1082.90h22.5v22.5h-22.5zM1319.56 1087.78h22.5v22.5h-22.5zM1319.56 1097.54h22.5v22.5h-22.5zM1319.56 1102.42h22.5v22.5h-22.5zM1324.44 1087.78h22.5v22.5h-22.5zM1324.44 1092.66h22.5v22.5h-22.5zM1324.44 1102.42h22.5v22.5h-22.5zM1324.44 1107.30h22.5v22.5h-22.5zM1324.44 1112.18h22.5v22.5h-22.5zM1329.32 1092.66h22.5v22.5h-22.5zM1329.32 1097.54h22.5v22.5h-22.5zM1329.32 1107.30h22.5v22.5h-22.5zM1329.32 1117.07h22.5v22.5h-22.5zM1329.32 1400.16h22.5v22.5h-22.5zM1329.32 1405.04h22.5v22.5h-22.5zM1334.21 1102.42h22.5v22.5h-22.5zM1334.21 1112.18h22.5v22.5h-22.5zM1334.21 1121.95h22.5v22.5h-22.5zM1334.21 1400.16h22.5v22.5h-22.5zM1339.09 1107.30h22.5v22.5h-22.5zM1339.09 1117.07h22.5v22.5h-22.5zM1339.09 1126.83h22.5v22.5h-22.5zM1339.09 1375.76h22.5v22.5h-22.5zM1339.09 1400.16h22.5v22.5h-22.5zM1343.97 1112.18h22.5v22.5h-22.5zM1343.97 1121.95h22.5v22.5h-22.5zM1343.97 1131.71h22.5v22.5h-22.5zM1348.85 1117.07h22.5v22.5h-22.5zM1348.85 1126.83h22.5v22.5h-22.5zM1348.85 1136.59h22.5v22.5h-22.5zM1348.85 1375.76h22.5v22.5h-22.5zM1353.74 1121.95h22.5v22.5h-22.5zM1353.74 1131.71h22.5v22.5h-22.5zM1353.74 1141.47h22.5v22.5h-22.5zM1358.62 1126.83h22.5v22.5h-22.5zM1358.62 1136.59h22.5v22.5h-22.5zM1363.50 1131.71h22.5v22.5h-22.5zM1363.50 1141.47h22.5v22.5h-22.5zM1363.50 1146.35h22.5v22.5h-22.5zM1368.38 1136.59h22.5v22.5h-22.5zM1368.38 1146.35h22.5v22.5h-22.5zM1373.27 887.66h22.5v22.5h-22.5zM1373.27 892.54h22.5v22.5h-22.5zM1373.27 1141.47h22.5v22.5h-22.5zM1373.27 1151.23h22.5v22.5h-22.5zM1378.15 672.89h22.5v22.5h-22.5zM1378.15 877.90h22.5v22.5h-22.5zM1378.15 892.54h22.5v22.5h-22.5zM1378.15 1146.35h22.5v22.5h-22.5zM1378.15 1156.11h22.5v22.5h-22.5zM1383.03 555.75h22.5v22.5h-22.5zM1383.03 672.89h22.5v22.5h-22.5zM1383.03 887.66h22.5v22.5h-22.5zM1383.03 1151.23h22.5v22.5h-22.5zM1383.03 1156.11h22.5v22.5h-22.5zM1383.03 1160.99h22.5v22.5h-22.5zM1383.03 1165.88h22.5v22.5h-22.5zM1387.92 228.72h22.5v22.5h-22.5zM1387.92 248.25h22.5v22.5h-22.5zM1387.92 550.87h22.5v22.5h-22.5zM1387.92 668.01h22.5v22.5h-22.5zM1387.92 672.89h22.5v22.5h-22.5zM1387.92 877.90h22.5v22.5h-22.5zM1387.92 882.78h22.5v22.5h-22.5zM1387.92 921.83h22.5v22.5h-22.5zM1387.92 941.35h22.5v22.5h-22.5zM1392.80 672.89h22.5v22.5h-22.5zM1392.80 1126.83h22.5v22.5h-22.5zM1397.68 253.13h22.5v22.5h-22.5zM1397.68 262.89h22.5v22.5h-22.5zM1397.68 267.77h22.5v22.5h-22.5zM1397.68 550.87h22.5v22.5h-22.5zM1397.68 668.01h22.5v22.5h-22.5zM1397.68 882.78h22.5v22.5h-22.5zM1397.68 887.66h22.5v22.5h-22.5zM1402.56 228.72h22.5v22.5h-22.5zM1402.56 921.83h22.5v22.5h-22.5zM1402.56 936.47h22.5v22.5h-22.5zM1402.56 941.35h22.5v22.5h-22.5zM1407.45 262.89h22.5v22.5h-22.5zM1407.45 882.78h22.5v22.5h-22.5zM1407.45 887.66h22.5v22.5h-22.5zM1407.45 897.42h22.5v22.5h-22.5zM1407.45 907.18h22.5v22.5h-22.5zM1407.45 921.83h22.5v22.5h-22.5zM1412.33 1136.59h22.5v22.5h-22.5zM1417.21 262.89h22.5v22.5h-22.5zM1417.21 267.77h22.5v22.5h-22.5zM1426.98 262.89h22.5v22.5h-22.5zM1431.86 668.01h22.5v22.5h-22.5zM1431.86 1126.83h22.5v22.5h-22.5zM1436.74 262.89h22.5v22.5h-22.5zM1436.74 267.77h22.5v22.5h-22.5zM1436.74 282.41h22.5v22.5h-22.5zM1446.51 267.77h22.5v22.5h-22.5zM1446.51 287.30h22.5v22.5h-22.5zM1446.51 1126.83h22.5v22.5h-22.5zM1451.39 541.11h22.5v22.5h-22.5zM1451.39 658.25h22.5v22.5h-22.5zM1451.39 668.01h22.5v22.5h-22.5zM1456.27 267.77h22.5v22.5h-22.5zM1456.27 287.30h22.5v22.5h-22.5zM1456.27 1126.83h22.5v22.5h-22.5zM1461.15 658.25h22.5v22.5h-22.5zM1466.04 1117.07h22.5v22.5h-22.5zM1466.04 1126.83h22.5v22.5h-22.5zM1466.04 1248.85h22.5v22.5h-22.5zM1466.04 1258.61h22.5v22.5h-22.5zM1470.92 189.68h22.5v22.5h-22.5zM1470.92 287.30h22.5v22.5h-22.5zM1470.92 301.94h22.5v22.5h-22.5zM1470.92 531.35h22.5v22.5h-22.5zM1470.92 541.11h22.5v22.5h-22.5zM1470.92 658.25h22.5v22.5h-22.5zM1475.80 301.94h22.5v22.5h-22.5zM1485.57 648.49h22.5v22.5h-22.5zM1485.57 1107.30h22.5v22.5h-22.5zM1490.45 653.37h22.5v22.5h-22.5zM1490.45 1117.07h22.5v22.5h-22.5zM1490.45 1239.09h22.5v22.5h-22.5zM1490.45 1243.97h22.5v22.5h-22.5zM1490.45 1248.85h22.5v22.5h-22.5zM1495.33 648.49h22.5v22.5h-22.5zM1495.33 1107.30h22.5v22.5h-22.5zM1495.33 1239.09h22.5v22.5h-22.5z" fill="none" stroke="#0000ff" stroke-width="3.0" stroke-linejoin="round"/>
<path d="M403.11 173.46L418.44 200.01L387.79 200.01zM408.00 153.94L423.33 180.49L392.67 180.49zM408.00 158.82L423.33 185.37L392.67 185.37zM408.00 163.70L423.33 190.25L392.67 190.25zM408.00 168.58L423.33 195.13L392.67 195.13zM408.00 173.46L423.33 200.01L392.67 200.01zM408.00 178.34L423.33 204.89L392.67 204.89zM408.00 183.23L423.33 209.78L392.67 209.78zM412.88 144.18L428.21 170.73L397.55 170.73zM412.88 149.06L428.21 175.61L397.55 175.61zM412.88 153.94L428.21 180.49L397.55 180.49zM412.88 158.82L428.21 185.37L397.55 185.37zM412.88 163.70L428.21 190.25L397.55 190.25zM412.88 168.58L428.21 195.13L397.55 195.13zM412.88 173.46L428.21 200.01L397.55 200.01zM412.88 178.34L428.21 204.89L397.55 204.89zM412.88 183.23L428.21 209.78L397.55 209.78zM412.88 188.11L428.21 214.66L397.55 214.66zM417.76 139.30L433.09 165.85L402.43 165.85zM417.76 144.18L433.09 170.73L402.43 170.73zM417.76 149.06L433.09 175.61L402.43 175.61zM417.76 153.94L433.09 180.49L402.43 180.49zM417.76 173.46L433.09 200.01L402.43 200.01zM417.76 178.34L433.09 204.89L402.43 204.89zM417.76 183.23L433.09 209.78L402.43 209.78zM417.76 188.11L433.09 214.66L402.43 214.66zM417.76 192.99L433.09 219.54L402.43 219.54zM422.65 134.42L437.97 160.97L407.32 160.97zM422.65 139.30L437.97 165.85L407.32 165.85zM422.65 144.18L437.97 170.73L407.32 170.73zM422.65 149.06L437.97 175.61L407.32 175.61zM422.65 173.46L437.97 200.01L407.32 200.01zM422.65 178.34L437.97 204.89L407.32 204.89zM422.65 183.23L437.97 209.78L407.32 209.78zM422.65 188.11L437.97 214.66L407.32 214.66zM422.65 192.99L437.97 219.54L407.32 219.54zM422.65 197.87L437.97 224.42L407.32 224.42zM427.53 134.42L442.86 160.97L412.20 160.97zM427.53 139.30L442.86 165.85L412.20 165.85zM427.53 144.18L442.86 170.73L412.20 170.73zM427.53 149.06L442.86 175.61L412.20 175.61zM427.53 178.34L442.86 204.89L412.20 204.89zM427.53 183.23L442.86 209.78L412.20 209.78zM427.53 188.11L442.86 214.66L412.20 214.66zM427.53 192.99L442.86 219.54L412.20 219.54zM427.53 197.87L442.86 224.42L412.20 224.42zM427.53 202.75L442.86 229.30L412.20 229.30zM432.41 134.42L447.74 160.97L417.08 160.97zM432.41 188.11L447.74 214.66L417.08 214.66zM432.41 192.99L447.74 219.54L417.08 219.54zM432.41 197.87L447.74 224.42L417.08 224.42zM432.41 202.75L447.74 229.30L417.08 229.30zM437.29 192.99L452.62 219.54L421.96 219.54zM437.29 197.87L452.62 224.42L421.96 224.42zM437.29 202.75L452.62 229.30L421.96 229.30zM437.29 207.63L452.62 234.18L421.96 234.18zM442.18 197.87L457.50 224.42L426.85 224.42zM442.18 202.75L457.50 229.30L426.85 229.30zM442.18 207.63L457.50 234.18L426.85 234.18zM447.06 202.75L462.39 229.30L431.73 229.30zM447.06 207.63L462.39 234.18L431.73 234.18zM447.06 212.51L462.39 239.06L431.73 239.06zM456.82 202.75L472.15 229.30L441.49 229.30zM456.82 212.51L472.15 239.06L441.49 239.06zM456.82 217.39L472.15 243.94L441.49 243.94zM461.71 217.39L477.03 243.94L446.38 243.94zM466.59 232.04L481.92 258.59L451.26 258.59zM564.24 334.54L579.57 361.09L548.91 361.09zM564.24 339.42L579.57 365.97L548.91 365.97zM569.12 188.11L584.45 214.66L553.79 214.66zM569.12 197.87L584.45 224.42L553.79 224.42zM569.12 324.77L584.45 351.32L553.79 351.32zM569.12 334.54L584.45 361.09L553.79 361.09zM583.77 315.01L599.10 341.56L568.44 341.56zM583.77 324.77L599.10 351.32L568.44 351.32zM588.65 188.11L603.98 214.66L573.32 214.66zM603.30 178.34L618.63 204.89L587.97 204.89zM603.30 315.01L618.63 341.56L587.97 341.56zM613.07 178.34L628.40 204.89L597.74 204.89zM617.95 173.46L633.28 200.01L602.62 200.01zM617.95 178.34L633.28 204.89L602.62 204.89zM617.95 183.23L633.28 209.78L602.62 209.78zM622.83 168.58L638.16 195.13L607.50 195.13zM622.83 173.46L638.16 200.01L607.50 200.01zM622.83 178.34L638.16 204.89L607.50 204.89zM622.83 183.23L638.16 209.78L607.50 209.78zM622.83 188.11L638.16 214.66L607.50 214.66zM627.71 173.46L643.04 200.01L612.39 200.01zM627.71 178.34L643.04 204.89L612.39 204.89zM627.71 183.23L643.04 209.78L612.39 209.78zM627.71 188.11L643.04 214.66L612.39 214.66zM632.60 173.46L647.93 200.01L617.27 200.01zM632.60 178.34L647.93 204.89L617.27 204.89zM632.60 183.23L647.93 209.78L617.27 209.78zM632.60 188.11L647.93 214.66L617.27 214.66zM632.60 192.99L647.93 219.54L617.27 219.54zM637.48 183.23L652.81 209.78L622.15 209.78zM637.48 188.11L652.81 214.66L622.15 214.66zM637.48 192.99L652.81 219.54L622.15 219.54zM637.48 197.87L652.81 224.42L622.15 224.42zM642.36 183.23L657.69 209.78L627.03 209.78zM642.36 188.11L657.69 214.66L627.03 214.66zM642.36 192.99L657.69 219.54L627.03 219.54zM642.36 197.87L657.69 224.42L627.03 224.42zM642.36 261.32L657.69 287.87L627.03 287.87zM647.24 188.11L662.57 214.66L631.92 214.66zM647.24 192.99L662.57 219.54L631.92 219.54zM647.24 197.87L662.57 224.42L631.92 224.42zM647.24 202.75L662.57 229.30L631.92 229.30zM652.13 192.99L667.46 219.54L636.80 219.54zM652.13 197.87L667.46 224.42L636.80 224.42zM652.13 202.75L667.46 229.30L636.80 229.30zM652.13 207.63L667.46 234.18L636.80 234.18zM652.13 222.27L667.46 248.82L636.80 248.82zM652.13 241.80L667.46 268.35L636.80 268.35zM657.01 197.87L672.34 224.42L641.68 224.42zM657.01 202.75L672.34 229.30L641.68 229.30zM657.01 207.63L672.34 234.18L641.68 234.18zM657.01 212.51L672.34 239.06L641.68 239.06zM657.01 217.39L672.34 243.94L641.68 243.94zM661.89 202.75L677.22 229.30L646.56 229.30zM661.89 207.63L677.22 234.18L646.56 234.18zM661.89 212.51L677.22 239.06L646.56 239.06zM661.89 334.54L677.22 361.09L646.56 361.09zM661.89 427.28L677.22 453.83L646.56 453.83zM666.78 197.87L682.10 224.42L651.45 224.42zM666.78 207.63L682.10 234.18L651.45 234.18zM671.66 197.87L686.99 224.42L656.33 224.42zM676.54 427.28L691.87 453.83L661.21 453.83zM676.54 441.92L691.87 468.47L661.21 468.47zM681.42 197.87L696.75 224.42L666.09 224.42zM681.42 427.28L696.75 453.83L666.09 453.83zM681.42 441.92L696.75 468.47L666.09 468.47zM681.42 446.80L696.75 473.35L666.09 473.35zM686.31 197.87L701.63 224.42L670.98 224.42zM686.31 441.92L701.63 468.47L670.98 468.47zM686.31 451.68L701.63 478.23L670.98 478.23zM691.19 446.80L706.52 473.35L675.86 473.35zM691.19 451.68L706.52 478.23L675.86 478.23zM696.07 427.28L711.40 453.83L680.74 453.83zM696.07 446.80L711.40 473.35L680.74 473.35zM696.07 456.56L711.40 483.11L680.74 483.11zM700.95 446.80L716.28 473.35L685.62 473.35zM700.95 456.56L716.28 483.11L685.62 483.11zM700.95 466.32L716.28 492.87L685.62 492.87zM705.84 446.80L721.16 473.35L690.51 473.35zM705.84 456.56L721.16 483.11L690.51 483.11zM705.84 466.32L721.16 492.87L690.51 492.87zM710.72 461.44L726.05 487.99L695.39 487.99zM710.72 466.32L726.05 492.87L695.39 492.87zM715.60 446.80L730.93 473.35L700.27 473.35zM715.60 466.32L730.93 492.87L700.27 492.87zM735.13 485.85L750.46 512.40L719.80 512.40zM735.13 510.25L750.46 536.80L719.80 536.80zM740.01 510.25L755.34 536.80L724.69 536.80zM740.01 515.13L755.34 541.68L724.69 541.68zM744.90 515.13L760.23 541.68L729.57 541.68zM744.90 520.01L760.23 546.56L729.57 546.56zM749.78 520.01L765.11 546.56L734.45 546.56zM749.78 524.89L765.11 551.45L734.45 551.45zM754.66 524.89L769.99 551.45L739.33 551.45zM754.66 529.78L769.99 556.33L739.33 556.33zM759.54 524.89L774.87 551.45L744.22 551.45zM759.54 529.78L774.87 556.33L744.22 556.33zM759.54 534.66L774.87 561.21L744.22 561.21zM764.43 529.78L779.76 556.33L749.10 556.33zM764.43 534.66L779.76 561.21L749.10 561.21zM764.43 539.54L779.76 566.09L749.10 566.09zM769.31 534.66L784.64 561.21L753.98 561.21zM769.31 539.54L784.64 566.09L753.98 566.09zM769.31 544.42L784.64 570.97L753.98 570.97zM774.19 539.54L789.52 566.09L758.86 566.09zM774.19 544.42L789.52 570.97L758.86 570.97zM774.19 549.30L789.52 575.85L758.86 575.85zM779.08 544.42L794.40 570.97L763.75 570.97zM779.08 549.30L794.40 575.85L763.75 575.85zM1042.74 222.27L1058.06 248.82L1027.41 248.82zM1042.74 236.92L1058.06 263.47L1027.41 263.47zM1057.38 236.92L1072.71 263.47L1042.05 263.47zM1062.27 217.39L1077.59 243.94L1046.94 243.94zM1062.27 222.27L1077.59 248.82L1046.94 248.82zM1135.50 568.82L1150.83 595.37L1120.18 595.37zM1150.15 568.82L1165.48 595.37L1134.82 595.37zM1159.92 568.82L1175.25 595.37L1144.59 595.37zM1159.92 583.47L1175.25 610.02L1144.59 610.02zM1159.92 588.35L1175.25 614.90L1144.59 614.90zM1169.68 593.23L1185.01 619.78L1154.35 619.78zM1174.57 583.47L1189.89 610.02L1159.24 610.02zM1174.57 602.99L1189.89 629.54L1159.24 629.54zM1179.45 583.47L1194.78 610.02L1164.12 610.02zM1179.45 593.23L1194.78 619.78L1164.12 619.78zM1179.45 602.99L1194.78 629.54L1164.12 629.54zM1184.33 598.11L1199.66 624.66L1169.00 624.66zM1184.33 607.87L1199.66 634.42L1169.00 634.42zM1194.10 583.47L1209.42 610.02L1178.77 610.02zM1194.10 598.11L1209.42 624.66L1178.77 624.66zM1194.10 617.63L1209.42 644.18L1178.77 644.18zM1203.86 598.11L1219.19 624.66L1188.53 624.66zM1203.86 632.28L1219.19 658.83L1188.53 658.83zM1203.86 637.16L1219.19 663.71L1188.53 663.71zM1203.86 642.04L1219.19 668.59L1188.53 668.59zM1203.86 646.92L1219.19 673.47L1188.53 673.47zM1208.74 637.16L1224.07 663.71L1193.42 663.71zM1208.74 642.04L1224.07 668.59L1193.42 668.59zM1208.74 646.92L1224.07 673.47L1193.42 673.47zM1208.74 651.80L1224.07 678.35L1193.42 678.35zM1213.63 642.04L1228.96 668.59L1198.30 668.59zM1213.63 646.92L1228.96 673.47L1198.30 673.47zM1213.63 651.80L1228.96 678.35L1198.30 678.35zM1213.63 656.68L1228.96 683.23L1198.30 683.23zM1218.51 642.04L1233.84 668.59L1203.18 668.59zM1218.51 646.92L1233.84 673.47L1203.18 673.47zM1218.51 651.80L1233.84 678.35L1203.18 678.35zM1218.51 656.68L1233.84 683.23L1203.18 683.23zM1218.51 661.56L1233.84 688.11L1203.18 688.11zM1223.39 646.92L1238.72 673.47L1208.06 673.47zM1223.39 651.80L1238.72 678.35L1208.06 678.35zM1223.39 656.68L1238.72 683.23L1208.06 683.23zM1223.39 661.56L1238.72 688.11L1208.06 688.11zM1223.39 666.44L1238.72 692.99L1208.06 692.99zM1228.27 651.80L1243.60 678.35L1212.95 678.35zM1228.27 656.68L1243.60 683.23L1212.95 683.23zM1228.27 661.56L1243.60 688.11L1212.95 688.11zM1228.27 666.44L1243.60 692.99L1212.95 692.99zM1233.16 656.68L1248.49 683.23L1217.83 683.23zM1233.16 661.56L1248.49 688.11L1217.83 688.11zM1233.16 666.44L1248.49 692.99L1217.83 692.99zM1233.16 671.32L1248.49 697.88L1217.83 697.88zM1252.69 666.44L1268.02 692.99L1237.36 692.99zM1267.34 671.32L1282.66 697.88L1252.01 697.88zM1286.87 671.32L1302.19 697.88L1271.54 697.88zM1286.87 676.21L1302.19 702.76L1271.54 702.76zM1286.87 681.09L1302.19 707.64L1271.54 707.64zM1291.75 671.32L1307.08 697.88L1276.42 697.88zM1291.75 681.09L1307.08 707.64L1276.42 707.64zM1301.51 1056.92L1316.84 1083.47L1286.18 1083.47zM1301.51 1071.57L1316.84 1098.12L1286.18 1098.12zM1306.40 671.32L1321.72 697.88L1291.07 697.88zM1306.40 681.09L1321.72 707.64L1291.07 707.64zM1306.40 1056.92L1321.72 1083.47L1291.07 1083.47zM1306.40 1071.57L1321.72 1098.12L1291.07 1098.12zM1321.04 1056.92L1336.37 1083.47L1305.71 1083.47zM1321.04 1071.57L1336.37 1098.12L1305.71 1098.12zM1325.93 1076.45L1341.25 1103.00L1310.60 1103.00zM1325.93 1091.09L1341.25 1117.64L1310.60 1117.64zM1335.69 1091.09L1351.02 1117.64L1320.36 1117.64zM1335.69 1095.97L1351.02 1122.52L1320.36 1122.52zM1335.69 1100.85L1351.02 1127.40L1320.36 1127.40zM1340.57 1095.97L1355.90 1122.52L1325.25 1122.52zM1340.57 1100.85L1355.90 1127.40L1325.25 1127.40zM1340.57 1105.73L1355.90 1132.28L1325.25 1132.28zM1345.46 1100.85L1360.79 1127.40L1330.13 1127.40zM1345.46 1105.73L1360.79 1132.28L1330.13 1132.28zM1345.46 1110.62L1360.79 1137.16L1330.13 1137.16zM1350.34 1105.73L1365.67 1132.28L1335.01 1132.28zM1350.34 1110.62L1365.67 1137.16L1335.01 1137.16zM1350.34 1115.50L1365.67 1142.05L1335.01 1142.05zM1355.22 1110.62L1370.55 1137.16L1339.89 1137.16zM1355.22 1115.50L1370.55 1142.05L1339.89 1142.05zM1355.22 1120.38L1370.55 1146.93L1339.89 1146.93zM1355.22 1125.26L1370.55 1151.81L1339.89 1151.81zM1360.10 1110.62L1375.43 1137.16L1344.78 1137.16zM1360.10 1115.50L1375.43 1142.05L1344.78 1142.05zM1360.10 1120.38L1375.43 1146.93L1344.78 1146.93zM1360.10 1125.26L1375.43 1151.81L1344.78 1151.81zM1364.99 1120.38L1380.32 1146.93L1349.66 1146.93zM1364.99 1125.26L1380.32 1151.81L1349.66 1151.81zM1364.99 1135.02L1380.32 1161.57L1349.66 1161.57zM1369.87 1120.38L1385.20 1146.93L1354.54 1146.93zM1369.87 1125.26L1385.20 1151.81L1354.54 1151.81zM1369.87 1130.14L1385.20 1156.69L1354.54 1156.69zM1369.87 1135.02L1385.20 1161.57L1354.54 1161.57zM1374.75 1130.14L1390.08 1156.69L1359.42 1156.69zM1374.75 1135.02L1390.08 1161.57L1359.42 1161.57zM1379.63 1130.14L1394.96 1156.69L1364.31 1156.69zM1379.63 1135.02L1394.96 1161.57L1364.31 1161.57zM1379.63 1139.90L1394.96 1166.45L1364.31 1166.45zM1384.52 1139.90L1399.85 1166.45L1369.19 1166.45zM1384.52 1144.78L1399.85 1171.33L1369.19 1171.33zM1389.40 1130.14L1404.73 1156.69L1374.07 1156.69zM1389.40 1144.78L1404.73 1171.33L1374.07 1171.33zM1389.40 1149.66L1404.73 1176.21L1374.07 1176.21zM1394.28 549.30L1409.61 575.85L1378.95 575.85zM1394.28 1144.78L1409.61 1171.33L1378.95 1171.33zM1394.28 1149.66L1409.61 1176.21L1378.95 1176.21zM1399.17 222.27L1414.49 248.82L1383.84 248.82zM1399.17 544.42L1414.49 570.97L1383.84 570.97zM1399.17 549.30L1414.49 575.85L1383.84 575.85zM1404.05 661.56L1419.38 688.11L1388.72 688.11zM1404.05 666.44L1419.38 692.99L1388.72 692.99zM1404.05 1130.14L1419.38 1156.69L1388.72 1156.69zM1408.93 241.80L1424.26 268.35L1393.60 268.35zM1408.93 246.68L1424.26 273.23L1393.60 273.23zM1408.93 544.42L1424.26 570.97L1393.60 570.97zM1408.93 661.56L1424.26 688.11L1393.60 688.11zM1413.81 241.80L1429.14 268.35L1398.48 268.35zM1428.46 256.44L1443.79 282.99L1413.13 282.99zM1428.46 261.32L1443.79 287.87L1413.13 287.87zM1443.11 661.56L1458.44 688.11L1427.78 688.11zM1443.11 1120.38L1458.44 1146.93L1427.78 1146.93zM1447.99 261.32L1463.32 287.87L1432.66 287.87zM1447.99 275.96L1463.32 302.51L1432.66 302.51zM1447.99 280.85L1463.32 307.40L1432.66 307.40zM1457.76 1110.62L1473.09 1137.16L1442.43 1137.16zM1457.76 1120.38L1473.09 1146.93L1442.43 1146.93zM1462.64 183.23L1477.97 209.78L1447.31 209.78zM1462.64 524.89L1477.97 551.45L1447.31 551.45zM1462.64 534.66L1477.97 561.21L1447.31 561.21zM1462.64 651.80L1477.97 678.35L1447.31 678.35zM1467.52 275.96L1482.85 302.51L1452.19 302.51zM1467.52 280.85L1482.85 307.40L1452.19 307.40zM1467.52 295.49L1482.85 322.04L1452.19 322.04zM1467.52 300.37L1482.85 326.92L1452.19 326.92zM1477.29 1110.62L1492.62 1137.16L1461.96 1137.16zM1482.17 183.23L1497.50 209.78L1466.84 209.78zM1482.17 524.89L1497.50 551.45L1466.84 551.45zM1482.17 642.04L1497.50 668.59L1466.84 668.59zM1482.17 651.80L1497.50 678.35L1466.84 678.35zM1487.05 300.37L1502.38 326.92L1471.72 326.92z" fill="none" stroke="#ff0000" stroke-width="3.0" stroke-linejoin="round"/>
<rect x="120" y="30" width="1450" height="1450" fill="none" stroke="#000" stroke-width="3.4" stroke-linejoin="round"/>
<path d="M168.75 1480V1510.5M120 78.90H89M412.88 1480V1510.5M120 322.95H89M657.01 1480V1510.5M120 567.00H89M901.14 1480V1510.5M120 811.05H89M1145.27 1480V1510.5M120 1055.10H89M1389.40 1480V1510.5M120 1299.15H89" stroke="#000" stroke-width="3.4" stroke-linecap="round" fill="none"/>
<text transform="translate(168.75 1588.3) scale(0.941 1)" font-size="53.1" text-anchor="middle">0</text>
<text transform="translate(49.3 78.90) rotate(-90) scale(0.941 1)" font-size="53.1" text-anchor="middle">0</text>
<text transform="translate(412.88 1588.3) scale(0.941 1)" font-size="53.1" text-anchor="middle">50</text>
<text transform="translate(49.3 322.95) rotate(-90) scale(0.941 1)" font-size="53.1" text-anchor="middle">50</text>
<text transform="translate(657.01 1588.3) scale(0.941 1)" font-size="53.1" text-anchor="middle">100</text>
<text transform="translate(49.3 567.00) rotate(-90) scale(0.941 1)" font-size="53.1" text-anchor="middle">100</text>
<text transform="translate(901.14 1588.3) scale(0.941 1)" font-size="53.1" text-anchor="middle">150</text>
<text transform="translate(49.3 811.05) rotate(-90) scale(0.941 1)" font-size="53.1" text-anchor="middle">150</text>
<text transform="translate(1145.27 1588.3) scale(0.941 1)" font-size="53.1" text-anchor="middle">200</text>
<text transform="translate(49.3 1055.10) rotate(-90) scale(0.941 1)" font-size="53.1" text-anchor="middle">200</text>
<text transform="translate(1389.40 1588.3) scale(0.941 1)" font-size="53.1" text-anchor="middle">250</text>
<text transform="translate(49.3 1299.15) rotate(-90) scale(0.941 1)" font-size="53.1" text-anchor="middle">250</text>
<path d="M1202.70 71.80L1218.03 98.35L1187.37 98.35z" fill="none" stroke="#ff0000" stroke-width="3.0" stroke-linejoin="round"/>
<rect x="1191.45" y="138.75" width="22.5" height="22.5" fill="none" stroke="#0000ff" stroke-width="3.0" stroke-linejoin="round"/>
<text transform="translate(1248.1 107.75) scale(0.941 1)" font-size="53.1">DNCON2-RR</text>
<text transform="translate(1247.3 168.5) scale(0.941 1)" font-size="53.1">Model-RR</text>
<text transform="translate(199 1450.8) scale(0.941 1)" font-size="105.2">Top-L</text>
</svg></body></html>
